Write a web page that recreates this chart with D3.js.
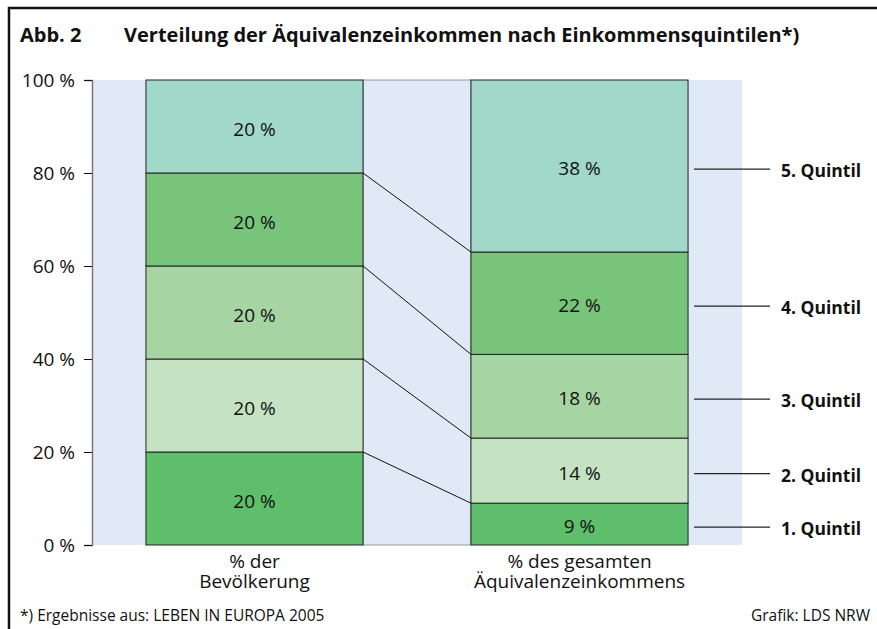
<!DOCTYPE html>
<html>
<head>
<meta charset="utf-8">
<script src="https://cdn.jsdelivr.net/npm/d3@7"></script>
<style>
  body { margin: 0; background: #fff; }
  svg text { font-family: "Open Sans", "Noto Sans", sans-serif; fill: #111; }
</style>
</head>
<body>
<div class="chart"></div>
<script>
// data
const categories = ["% der|Bevölkerung", "% des gesamten|Äquivalenzeinkommens"];
const quintiles = ["1. Quintil", "2. Quintil", "3. Quintil", "4. Quintil", "5. Quintil"];
const population = [20, 20, 20, 20, 20];
const income = [9, 14, 18, 22, 38];
const yTicks = [0, 20, 40, 60, 80, 100];
const colors = ["#5fbe6b", "#c5e3c2", "#a6d5a3", "#78c47b", "#a1d8c9"];

const WIDTH = 877, HEIGHT = 629;
const FONT = "'Open Sans', 'Noto Sans', sans-serif";

const svg = d3.select(".chart").append("svg")
  .attr("width", WIDTH)
  .attr("height", HEIGHT);

// frame (top and left edge)
svg.append("path")
  .attr("d", "M9,629 V8 H877")
  .attr("fill", "none")
  .attr("stroke", "#111")
  .attr("stroke-width", 2.5);

// title
svg.append("text")
  .attr("x", 20).attr("y", 42)
  .attr("font-size", 20).attr("font-weight", "bold")
  .text("Abb. 2");
svg.append("text")
  .attr("x", 124).attr("y", 42)
  .attr("font-size", 20).attr("font-weight", "bold")
  .text("Verteilung der Äquivalenzeinkommen nach Einkommensquintilen*)");

// scales
const x = d3.scaleBand()
  .domain(categories)
  .range([92, 742])
  .paddingInner(0.332)
  .paddingOuter(0.166);

const y = d3.scaleLinear().domain([0, 100]).range([545, 80]);

// plot background
svg.append("rect")
  .attr("x", x.range()[0]).attr("y", y(100))
  .attr("width", x.range()[1] - x.range()[0])
  .attr("height", y(0) - y(100))
  .attr("fill", "#dfeaf6");

// gap outline between the bars
const gapX0 = x(categories[0]) + x.bandwidth();
const gapX1 = x(categories[1]);
svg.append("rect")
  .attr("x", gapX0).attr("y", y(100))
  .attr("width", gapX1 - gapX0)
  .attr("height", y(0) - y(100))
  .attr("fill", "none")
  .attr("stroke", "#999")
  .attr("stroke-width", 1);

// stack segments
function stackUp(values) {
  let acc = 0;
  return values.map((v, i) => {
    const y0 = acc;
    acc = Math.min(100, acc + v);
    return { i, value: v, y0, y1: acc };
  });
}
const series = [stackUp(population), stackUp(income)];

// connecting lines between segment borders
const links = d3.range(1, quintiles.length).map(i => ({
  a: series[0][i].y0, b: series[1][i].y0
}));
svg.selectAll(".link")
  .data(links)
  .enter().append("line")
  .attr("x1", gapX0).attr("y1", d => y(d.a))
  .attr("x2", gapX1).attr("y2", d => y(d.b))
  .attr("stroke", "#111")
  .attr("stroke-width", 1);

series.forEach((segs, k) => {
  const g = svg.append("g");
  g.selectAll("rect")
    .data(segs)
    .enter().append("rect")
    .attr("x", x(categories[k]))
    .attr("y", d => y(d.y1))
    .attr("width", x.bandwidth())
    .attr("height", d => y(d.y0) - y(d.y1))
    .attr("fill", d => colors[d.i])
    .attr("stroke", "#222")
    .attr("stroke-width", 1);
  g.selectAll("text")
    .data(segs)
    .enter().append("text")
    .attr("x", x(categories[k]) + x.bandwidth() / 2)
    .attr("y", d => y((d.y0 + d.y1) / 2) + 9)
    .attr("text-anchor", "middle")
    .attr("font-size", 19)
    .text(d => d.value + " %");
});

// y axis
const yAxis = svg.append("g")
  .attr("transform", `translate(${x.range()[0]},0)`)
  .call(d3.axisLeft(y).tickValues(yTicks).tickSize(8).tickPadding(9)
    .tickFormat(d => d + " %"));
yAxis.select(".domain").attr("stroke", "#777").attr("stroke-width", 1.5);
yAxis.selectAll(".tick line").attr("stroke", "#111");
yAxis.selectAll(".tick text")
  .attr("font-size", 19)
  .attr("font-family", FONT)
  .attr("fill", "#111");

// category labels
categories.forEach(c => {
  const lines = c.split("|");
  const t = svg.append("text")
    .attr("x", x(c) + x.bandwidth() / 2)
    .attr("y", 568)
    .attr("text-anchor", "middle")
    .attr("font-size", 19);
  lines.forEach((l, j) => {
    t.append("tspan")
      .attr("x", x(c) + x.bandwidth() / 2)
      .attr("dy", j === 0 ? 0 : 20)
      .text(l);
  });
});

// quintile labels on the right
const right = x(categories[1]) + x.bandwidth();
const lab = svg.selectAll(".qlab")
  .data(series[1])
  .enter().append("g")
  .attr("transform", d => `translate(0,${y((d.y0 + d.y1) / 2) + 3})`);
lab.append("line")
  .attr("x1", right + 6).attr("x2", right + 82)
  .attr("stroke", "#222")
  .attr("stroke-width", 1.2);
lab.append("text")
  .attr("x", right + 93).attr("y", 8)
  .attr("font-size", 17.5).attr("font-weight", "bold")
  .text(d => quintiles[d.i]);

// footer
svg.append("text")
  .attr("x", 20).attr("y", 621)
  .attr("font-size", 15.5)
  .text("*) Ergebnisse aus: LEBEN IN EUROPA 2005");
svg.append("text")
  .attr("x", 870).attr("y", 621)
  .attr("text-anchor", "end")
  .attr("font-size", 15.5)
  .text("Grafik: LDS NRW");
</script>
</body>
</html>
